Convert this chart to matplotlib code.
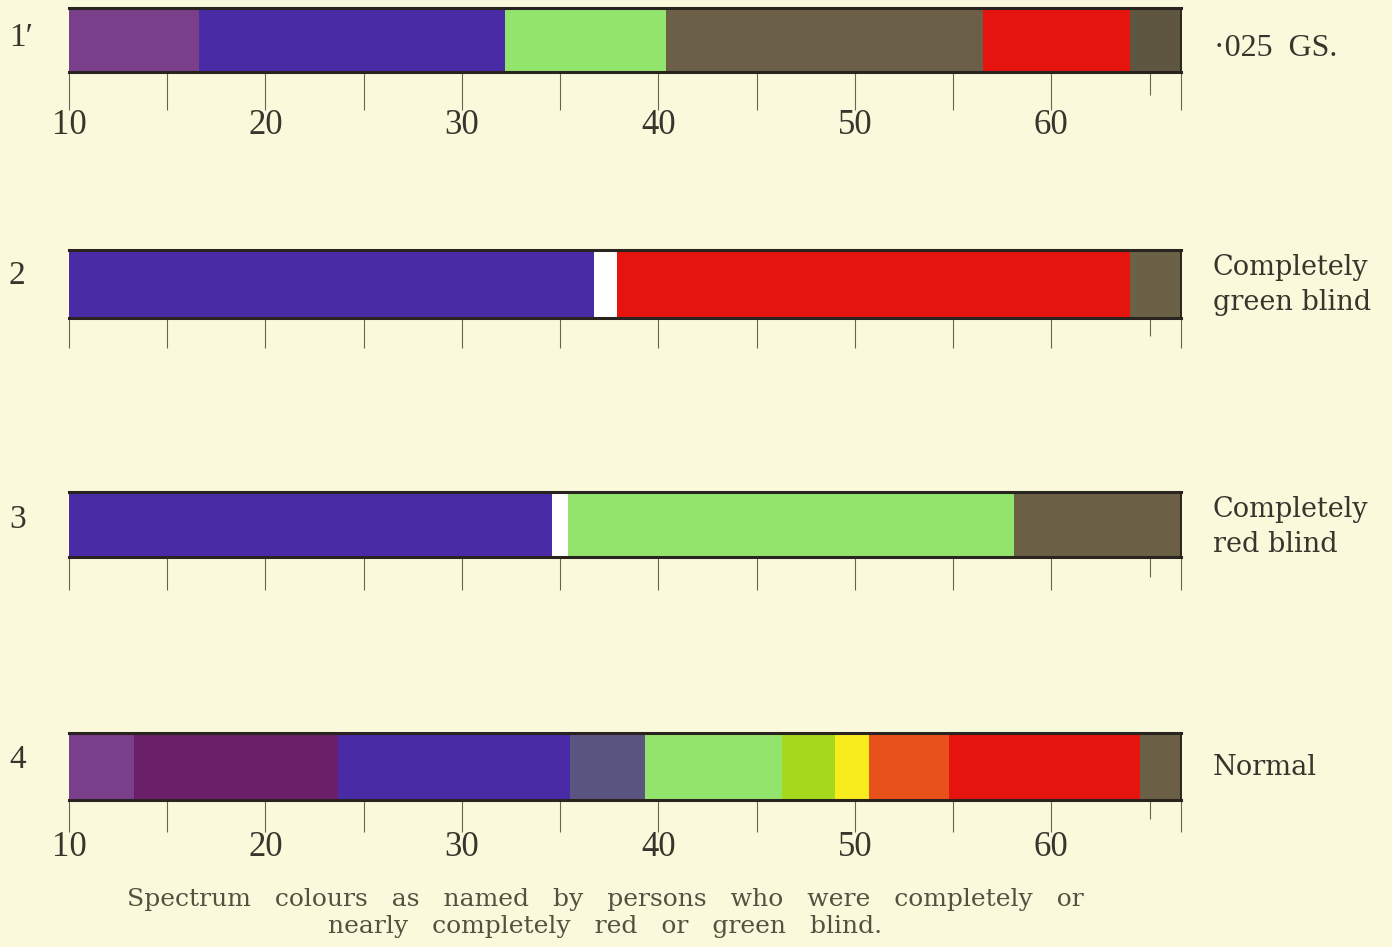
import matplotlib
matplotlib.use("Agg")
import matplotlib.pyplot as plt
import numpy as np

# ---- data ----
row_labels = ["1\u2032", "2", "3", "4"]
right_labels = ["\u00b7025  GS.", "Completely\ngreen blind", "Completely\nred blind", "Normal"]

edges_1 = [10, 16.6, 32.2, 40.4, 56.5, 64.0, 66.6]
colors_1 = ["#7a3f8a", "#4a2ba6", "#93e46c", "#6b5f47", "#e5140f", "#5e5640"]

edges_2 = [10, 36.7, 37.9, 64.0, 66.6]
colors_2 = ["#4a2ba6", "#ffffff", "#e5140f", "#6b6147"]

edges_3 = [10, 34.6, 35.4, 58.1, 66.6]
colors_3 = ["#4a2ba6", "#ffffff", "#93e46c", "#6b5f45"]

edges_4 = [10, 13.3, 23.7, 35.5, 39.3, 46.3, 49.0, 50.7, 54.8, 64.5, 66.6]
colors_4 = ["#7a3f8a", "#6a1f68", "#4a2ba6", "#5a5480", "#93e46c", "#a6d81c",
            "#f9ec1e", "#e8511a", "#e5140f", "#6b5f45"]

major_ticks = [10, 15, 20, 25, 30, 35, 40, 45, 50, 55, 60, 66.6]
minor_ticks = [65]
tick_labels = ["10", "", "20", "", "30", "", "40", "", "50", "", "60", ""]

caption = ("Spectrum   colours   as   named   by   persons   who   were   completely   or\n"
           "nearly   completely   red   or   green   blind.")

rows = [(edges_1, colors_1), (edges_2, colors_2), (edges_3, colors_3), (edges_4, colors_4)]
show_labels = [True, False, False, True]

# ---- layout (pixels) ----
W, H = 1392, 947
BG = "#fbf9dc"
x_left_px, x_right_px = 69, 1181
bar_px = [(8, 72), (250, 318), (492, 557), (733, 800)]
tick_len_px = [38, 30, 33, 32]
right_y_px = [48, 285, 527, 767]
left_y_px = [38, 276, 520, 760]
serif = ["Liberation Serif", "DejaVu Serif"]
wide_serif = ["DejaVu Serif"]
EDGE = "#2a2420"
TXT = "#3a342c"

fig = plt.figure(figsize=(W / 100, H / 100), dpi=100, facecolor=BG)

def px2pt(p):
    return p * 72 / 100

for i, ((edges, cols), (top, bot)) in enumerate(zip(rows, bar_px)):
    ax = fig.add_axes([x_left_px / W, 1 - bot / H, (x_right_px - x_left_px) / W, (bot - top) / H])
    ax.set_facecolor(BG)
    e = np.array(edges)
    ax.barh([0], np.diff(e), left=e[:-1], height=1.0, color=cols, edgecolor="none")
    ax.set_xlim(edges[0], edges[-1])
    ax.set_ylim(-0.5, 0.5)
    ax.set_yticks([])
    for s in ["top", "bottom"]:
        ax.spines[s].set_color(EDGE)
        ax.spines[s].set_linewidth(2.2)
    ax.spines["right"].set_color(EDGE)
    ax.spines["right"].set_linewidth(1.4)
    ax.spines["left"].set_visible(False)
    ax.set_xticks(major_ticks)
    ax.set_xticks(minor_ticks, minor=True)
    if show_labels[i]:
        ax.set_xticklabels(tick_labels)
    else:
        ax.set_xticklabels([""] * len(major_ticks))
    ax.tick_params(axis="x", which="major", direction="out", length=px2pt(tick_len_px[i]),
                   width=0.8, color="#6a6358", pad=-1, labelsize=25, labelcolor=TXT)
    ax.tick_params(axis="x", which="minor", direction="out", length=px2pt(tick_len_px[i] * 0.6),
                   width=0.8, color="#6a6358")
    for lab in ax.get_xticklabels():
        lab.set_fontfamily(serif)
    fig.text(9 / W, 1 - left_y_px[i] / H, row_labels[i], fontsize=24, family=serif, color=TXT,
             ha="left", va="center")
    if i == 0:
        fig.text(1214 / W, 1 - right_y_px[i] / H, right_labels[i], fontsize=23, family=serif,
                 color=TXT, ha="left", va="center")
    else:
        fig.text(1213 / W, 1 - right_y_px[i] / H, right_labels[i], fontsize=19.5, family=wide_serif,
                 color=TXT, ha="left", va="center", linespacing=1.4)

fig.text(605 / W, 1 - 913 / H, caption, fontsize=18, family=wide_serif, color="#55503f",
         ha="center", va="center", linespacing=1.2, multialignment="center")

fig.savefig("out.png", dpi=100, facecolor=BG)
